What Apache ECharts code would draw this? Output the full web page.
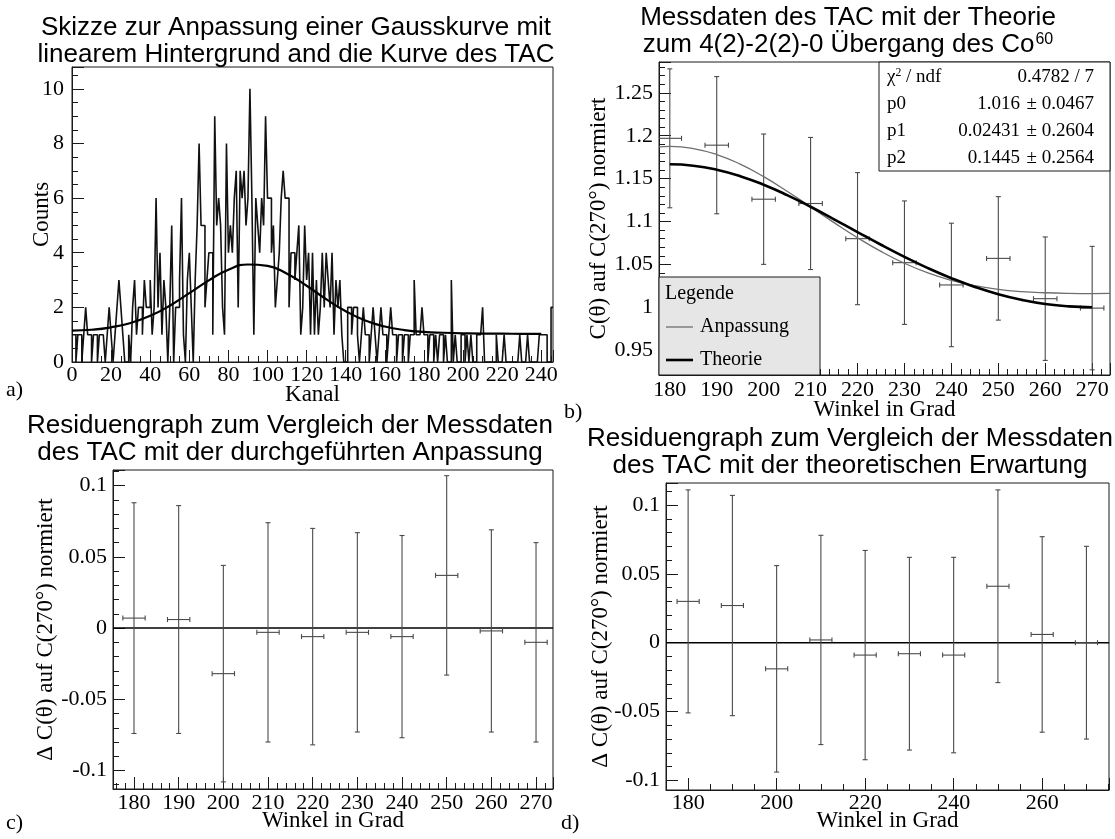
<!DOCTYPE html>
<html><head><meta charset="utf-8">
<script src="https://cdn.jsdelivr.net/npm/echarts@6/dist/echarts.min.js"></script>
<style>html,body{margin:0;padding:0;background:#fff}#main{width:1115px;height:839px}</style>
</head><body><div id="main"></div>
<script>
// ---------- DATA ----------
// Panel a: TAC spectrum (counts per channel, bin width 1, starting at channel 0)
const histStart = 0;
const histBinWidth = 1;
const histCounts = [
 1,1,0,1,1,0,1,2,1,1,
 0,1,1,0,1,1,1,0,1,2,
 1,0,1,2,3,2,1,0,0,1,
 0,2,3,1,2,2,1,3,2,2,
 3,1,2,6,2,4,1,3,2,0,
 2,5,0,2,2,3,6,1,0,3,
 4,2,0,3,5,8,5,5,2,3,
 4,4,1,9,5,6,5,2,1,8,
 4,5,4,6,7,2,7,6,7,5,
 6,10,6,1,6,5,4,6,5,9,
 6,6,4,5,2,3,4,6,7,6,
 6,2,4,4,3,4,5,1,2,5,
 3,4,1,4,1,3,1,2,4,2,
 4,3,2,4,1,3,2,3,1,0,
 0,2,2,1,2,2,1,0,1,2,
 1,1,0,1,2,1,0,1,2,1,
 1,0,1,2,1,1,0,1,1,0,
 1,1,0,1,1,3,1,1,1,2,
 1,1,0,1,1,0,1,0,1,1,
 0,1,0,0,3,0,1,0,0,1,
 1,0,1,0,1,0,0,1,1,1,
 2,0,0,0,0,0,0,1,0,0,
 0,1,0,0,0,0,0,0,0,1,
 0,0,0,1,0,0,0,0,0,1,
 1,1,1,0,0,2
];
// Gauss + linear background fit curve
const gaussX = [0,10,20,30,40,50,60,70,80,90,100,110,120,130,140,150,160,170,180,190,200,210,220,230,240];
const gaussY = [1.15,1.18,1.27,1.43,1.69,2.06,2.52,2.99,3.38,3.57,3.52,3.23,2.79,2.30,1.86,1.52,1.30,1.17,1.10,1.07,1.05,1.04,1.04,1.03,1.03];

// Panel b: angular correlation
const angles = [180,190,200,210,220,230,240,250,260,270];
const angleErr = 2.5;
const measured = [1.197,1.189,1.126,1.121,1.080,1.052,1.026,1.057,1.010,0.999];
const measuredErr = [0.081,0.080,0.076,0.077,0.077,0.072,0.072,0.072,0.072,0.072];
const fitAngles = [177.7,180,185,190,195,200,205,210,215,220,225,230,235,240,245,250,255,260,265,270,273.8];
const fitValues = [1.1871,1.1875,1.1851,1.1781,1.1669,1.1523,1.1353,1.1171,1.0987,1.0811,1.0651,1.0513,1.0400,1.0314,1.0251,1.0209,1.0183,1.0169,1.0162,1.0160,1.0161];
const theoAngles = [180,185,190,195,200,205,210,215,220,225,230,235,240,245,250,255,260,265,270];
const theoValues = [1.1667,1.1651,1.1604,1.1529,1.1429,1.1308,1.1172,1.1026,1.0877,1.0729,1.0588,1.0456,1.0339,1.0237,1.0152,1.0086,1.0038,1.0010,1.0000];
const statsRows = [
  ['{a|χ}{s|2}{a| / ndf}', '0.4782 / 7', ''],
  ['p0', '1.016', '± 0.0467'],
  ['p1', '0.02431', '± 0.2604'],
  ['p2', '0.1445', '± 0.2564']
];
const legendEntries = ['Anpassung', 'Theorie'];

// Panel c: residuals vs fit
const residFit = [0.007,0.006,-0.032,-0.003,-0.006,-0.003,-0.006,0.037,-0.002,-0.010];
const residFitErr = [0.081,0.080,0.076,0.077,0.076,0.070,0.071,0.070,0.071,0.070];
// Panel d: residuals vs theory
const residTheo = [0.030,0.027,-0.019,0.002,-0.009,-0.008,-0.009,0.041,0.006,0.000];
const residTheoErr = [0.081,0.080,0.075,0.076,0.076,0.070,0.071,0.070,0.071,0.070];

// axis ranges
const aX = [0, 246], aY = [0, 10.8];
const bX = [177.7, 273.8], bY = [0.921, 1.286];
const cX = [175.3, 273.8], cY = [-0.113, 0.111];
const dX = [175.0, 275.1], dY = [-0.107, 0.116];

// ---------- STYLE ----------
const serif = '"Liberation Serif","DejaVu Serif","Times New Roman",serif';
const sans = '"Liberation Sans",Arial,Helvetica,sans-serif';
const ink = '#1a1a1a';
const barColor = '#4a4a4a';

function mkAxis(gi, range, o) {
  const ax = {
    type: 'value', gridIndex: gi, min: range[0], max: range[1],
    axisLine: {show: true, onZero: false, lineStyle: {color: ink, width: 1}},
    axisTick: {show: true, inside: true, length: 12, lineStyle: {color: ink, width: 1}},
    minorTick: {show: true, splitNumber: o.minor, length: 6, lineStyle: {color: ink, width: 1}},
    splitLine: {show: false}, minorSplitLine: {show: false},
    axisLabel: {color: '#000', fontFamily: serif, fontSize: 22, margin: o.margin,
      showMinLabel: o.showMin !== undefined ? o.showMin : false,
      showMaxLabel: false, hideOverlap: false},
    name: o.name || '', nameLocation: 'middle', nameGap: o.nameGap, nameMoveOverlap: false,
    nameTextStyle: {color: '#000', fontFamily: serif, fontSize: 23},
  };
  if (o.interval) ax.interval = o.interval; else ax.splitNumber = o.split;
  return ax;
}

function errBars(xerr) {
  return function (params, api) {
    const x = api.value(0), y = api.value(1), e = api.value(2);
    const top = api.coord([x, y + e]), bot = api.coord([x, y - e]);
    const l = api.coord([x - xerr, y]), r = api.coord([x + xerr, y]);
    const cap = 2.5;
    const st = {stroke: barColor, lineWidth: 1.1};
    const ln = (x1, y1, x2, y2) => ({type: 'line', shape: {x1, y1, x2, y2}, style: st});
    return {type: 'group', children: [
      ln(top[0], top[1], bot[0], bot[1]),
      ln(l[0], l[1], r[0], r[1]),
      ln(top[0] - cap, top[1], top[0] + cap, top[1]),
      ln(bot[0] - cap, bot[1], bot[0] + cap, bot[1]),
      ln(l[0], l[1] - cap, l[0], l[1] + cap),
      ln(r[0], r[1] - cap, r[0], r[1] + cap)
    ]};
  };
}

const histData = histCounts.map((v, i) => [histStart + i * histBinWidth, v]);
histData.push([histStart + histCounts.length * histBinWidth, histCounts[histCounts.length - 1]]);

const gridBase = {show: true, borderColor: ink, borderWidth: 1, backgroundColor: '#fff', containLabel: false, outerBoundsMode: 'none'};
const grids = [
  Object.assign({left: 72, top: 67, width: 481, height: 295}, gridBase),
  Object.assign({left: 659, top: 62, width: 451, height: 313}, gridBase),
  Object.assign({left: 113, top: 470, width: 440, height: 319}, gridBase),
  Object.assign({left: 666, top: 483, width: 443, height: 307}, gridBase)
];

const titleStyle = (x, y, text) => ({
  type: 'text', x: x, y: y, z: 50,
  style: {text: text, fontFamily: sans, fontSize: 26, lineHeight: 27, fill: '#000', align: 'center', verticalAlign: 'top',
    rich: {t: {fontFamily: sans, fontSize: 26, lineHeight: 27}, sup: {fontFamily: sans, fontSize: 16, lineHeight: 27, verticalAlign: 'top', padding: [1, 0, 0, 1]}}}
});
const plainText = (x, y, text, size, align, font) => ({
  type: 'text', x: x, y: y, z: 60,
  style: {text: text, fontFamily: font || serif, fontSize: size, fill: '#000', align: align || 'left', verticalAlign: 'middle',
    rich: {a: {fontFamily: serif, fontSize: size}, s: {fontFamily: serif, fontSize: size * 0.62, verticalAlign: 'top', padding: [0, 0, 8, 0]}}}
});

const graphics = [
  titleStyle(296, 14, 'Skizze zur Anpassung einer Gausskurve mit\nlinearem Hintergrund and die Kurve des TAC'),
  titleStyle(848, 4, '{t|Messdaten des TAC mit der Theorie}\n{t|zum 4(2)-2(2)-0 Übergang des Co}{sup|60}'),
  titleStyle(290, 412, 'Residuengraph zum Vergleich der Messdaten\ndes TAC mit der durchgeführten Anpassung'),
  titleStyle(850, 425, 'Residuengraph zum Vergleich der Messdaten\ndes TAC mit der theoretischen Erwartung'),
  plainText(6, 390, 'a)', 22),
  plainText(564, 412, 'b)', 22),
  plainText(6, 823, 'c)', 22),
  plainText(561, 823, 'd)', 22),
  // stats box
  {type: 'rect', z: 55, shape: {x: 879, y: 62, width: 231, height: 109}, style: {fill: '#fff', stroke: ink, lineWidth: 1}},
  // legend box
  {type: 'rect', z: 55, shape: {x: 659, y: 277, width: 161, height: 98}, style: {fill: '#e6e6e6', stroke: ink, lineWidth: 1}},
  plainText(665, 294, 'Legende', 20),
  {type: 'line', z: 60, shape: {x1: 666, y1: 327, x2: 693, y2: 327}, style: {stroke: '#6e6e6e', lineWidth: 1.3}},
  plainText(700, 327, legendEntries[0], 20),
  {type: 'line', z: 60, shape: {x1: 666, y1: 360, x2: 693, y2: 360}, style: {stroke: '#000', lineWidth: 2.6}},
  plainText(700, 360, legendEntries[1], 20)
];
const rowY = [77, 104, 131, 158];
statsRows.forEach((row, i) => {
  graphics.push(plainText(887, rowY[i], row[0], 19));
  if (row[2]) {
    graphics.push(plainText(1020, rowY[i], row[1], 19, 'right'));
    graphics.push(plainText(1094, rowY[i], row[2], 19, 'right'));
  } else {
    graphics.push(plainText(1094, rowY[i], row[1], 19, 'right'));
  }
});

const option = {
  animation: false,
  backgroundColor: '#fff',
  grid: grids,
  xAxis: [
    mkAxis(0, aX, {interval: 20, minor: 4, name: 'Kanal', nameGap: 21, showMin: true, margin: 2}),
    mkAxis(1, bX, {split: 10, minor: 5, name: 'Winkel in Grad', nameGap: 23, margin: 4}),
    mkAxis(2, cX, {split: 10, minor: 5, name: 'Winkel in Grad', nameGap: 20, margin: 3}),
    mkAxis(3, dX, {split: 5, minor: 4, name: 'Winkel in Grad', nameGap: 19, margin: 2})
  ],
  yAxis: [
    mkAxis(0, aY, {interval: 2, minor: 4, name: 'Counts', nameGap: 19, showMin: true, margin: 8}),
    mkAxis(1, bY, {split: 7, minor: 5, name: 'C(θ) auf C(270°) normiert', nameGap: 49, margin: 6}),
    mkAxis(2, cY, {split: 5, minor: 5, name: 'Δ C(θ) auf C(270°) normiert', nameGap: 56, margin: 6}),
    mkAxis(3, dY, {split: 5, minor: 5, name: 'Δ C(θ) auf C(270°) normiert', nameGap: 54, margin: 6})
  ],
  graphic: graphics,
  series: [
    {type: 'line', xAxisIndex: 0, yAxisIndex: 0, step: 'end', data: histData, showSymbol: false, symbol: 'none',
      lineStyle: {color: '#111', width: 1.6}, clip: true, z: 3},
    {type: 'line', xAxisIndex: 0, yAxisIndex: 0, smooth: true, data: gaussX.map((x, i) => [x, gaussY[i]]), symbol: 'none',
      lineStyle: {color: '#000', width: 2.2}, z: 4},
    {type: 'custom', xAxisIndex: 1, yAxisIndex: 1, renderItem: errBars(angleErr), clip: true,
      data: angles.map((a, i) => [a, measured[i], measuredErr[i]]), encode: {x: 0, y: 1}, z: 2},
    {type: 'line', xAxisIndex: 1, yAxisIndex: 1, smooth: true, data: fitAngles.map((a, i) => [a, fitValues[i]]), symbol: 'none',
      lineStyle: {color: '#6e6e6e', width: 1.3}, clip: true, z: 3},
    {type: 'line', xAxisIndex: 1, yAxisIndex: 1, smooth: true, data: theoAngles.map((a, i) => [a, theoValues[i]]), symbol: 'none',
      lineStyle: {color: '#000', width: 2.6}, clip: true, z: 4},
    {type: 'line', xAxisIndex: 2, yAxisIndex: 2, data: [[cX[0], 0], [cX[1], 0]], symbol: 'none', lineStyle: {color: '#000', width: 1.5}, z: 1},
    {type: 'custom', xAxisIndex: 2, yAxisIndex: 2, renderItem: errBars(angleErr), clip: true,
      data: angles.map((a, i) => [a, residFit[i], residFitErr[i]]), encode: {x: 0, y: 1}, z: 2},
    {type: 'line', xAxisIndex: 3, yAxisIndex: 3, data: [[dX[0], 0], [dX[1], 0]], symbol: 'none', lineStyle: {color: '#000', width: 1.5}, z: 1},
    {type: 'custom', xAxisIndex: 3, yAxisIndex: 3, renderItem: errBars(angleErr), clip: true,
      data: angles.map((a, i) => [a, residTheo[i], residTheoErr[i]]), encode: {x: 0, y: 1}, z: 2}
  ]
};
const chart = echarts.init(document.getElementById('main'), null, {renderer: 'canvas'});
chart.setOption(option);
</script>
</body></html>
